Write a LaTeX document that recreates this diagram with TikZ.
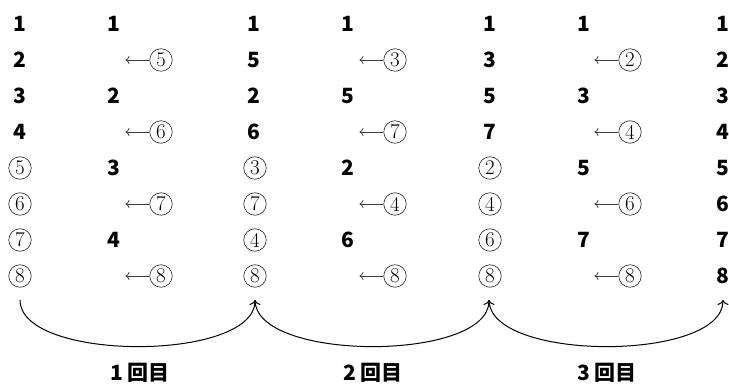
\documentclass[tikz,border=0pt]{standalone}
\usepackage{fontspec}
\newfontfamily\cjk{Noto Sans CJK JP}
\usetikzlibrary{arrows.meta}
\tikzset{
  num/.style={font=\cjk\bfseries\fontsize{21}{21}\selectfont, inner sep=0pt, anchor=center},
  cnum/.style={circle, draw=black!85, line width=0.6pt, inner sep=0pt, minimum size=22.5pt,
               font=\fontsize{21}{21}\selectfont, text=black},
  larr/.style={draw=black!75, line width=0.8pt, -{Computer Modern Rightarrow[length=4pt,width=8pt]}},
  pass/.style={draw=black, line width=1pt, -{Computer Modern Rightarrow[length=5pt,width=11pt]}},
  lab/.style={font=\cjk\bfseries\fontsize{21}{21}\selectfont, inner sep=0pt}
}
\begin{document}
\begin{tikzpicture}[x=1pt,y=-1pt]
\useasboundingbox (0,0) rectangle (729,385);
% column 0
\foreach \v [count=\r] in {1,2,3,4} \node[num] (c0r\r) at (20,{24+36*(\r-1)}) {\v};
\foreach \v [count=\i] in {5,6,7,8} {
  \pgfmathtruncatemacro\r{\i+4}
  \node[cnum] (c0r\r) at (20,{24+36*(\r-1)}) {\v};
}
% column 2
\foreach \v [count=\r] in {1,5,2,6} \node[num] (c2r\r) at (254,{24+36*(\r-1)}) {\v};
\foreach \v [count=\i] in {3,7,4,8} {
  \pgfmathtruncatemacro\r{\i+4}
  \node[cnum] (c2r\r) at (255,{24+36*(\r-1)}) {\v};
}
% column 4
\foreach \v [count=\r] in {1,3,5,7} \node[num] (c4r\r) at (490,{24+36*(\r-1)}) {\v};
\foreach \v [count=\i] in {2,4,6,8} {
  \pgfmathtruncatemacro\r{\i+4}
  \node[cnum] (c4r\r) at (490,{24+36*(\r-1)}) {\v};
}
% column 6
\foreach \v [count=\r] in {1,2,3,4,5,6,7,8} \node[num] (c6r\r) at (723,{24+36*(\r-1)}) {\v};
% merge columns: kept numbers and incoming arrows
\foreach \x/\cx/\vals/\ins [count=\k] in
  {114/161/{1,2,3,4}/{5,6,7,8}, 348/395/{1,5,2,6}/{3,7,4,8}, 584/630/{1,3,5,7}/{2,4,6,8}} {
  \foreach \v [count=\i] in \vals {
    \pgfmathtruncatemacro\r{2*\i-1}
    \node[num] (m\k r\r) at (\x,{24+36*(\r-1)}) {\v};
  }
  \foreach \v [count=\i] in \ins {
    \pgfmathtruncatemacro\r{2*\i}
    \node[cnum] (i\k r\r) at (\cx,{24+36*(\r-1)}) {\v};
    \coordinate (t\k r\r) at ([xshift=-24pt]i\k r\r.west);
    \draw[larr] (i\k r\r.west) -- (t\k r\r);
  }
}
% passes
\coordinate (p0) at (20,300);
\coordinate (p1) at (255,300);
\coordinate (p2) at (489,300);
\coordinate (p3) at (723,300);
\draw[pass] (p0) .. controls (20,362) and (255,362) .. (p1);
\draw[pass] (p1) .. controls (255,362) and (489,362) .. (p2);
\draw[pass] (p2) .. controls (489,362) and (723,362) .. (p3);
\node[lab] (l1) at (140,373) {1\,回目};
\node[lab] (l2) at (373,373) {2\,回目};
\node[lab] (l3) at (607,373) {3\,回目};
\end{tikzpicture}
\end{document}
